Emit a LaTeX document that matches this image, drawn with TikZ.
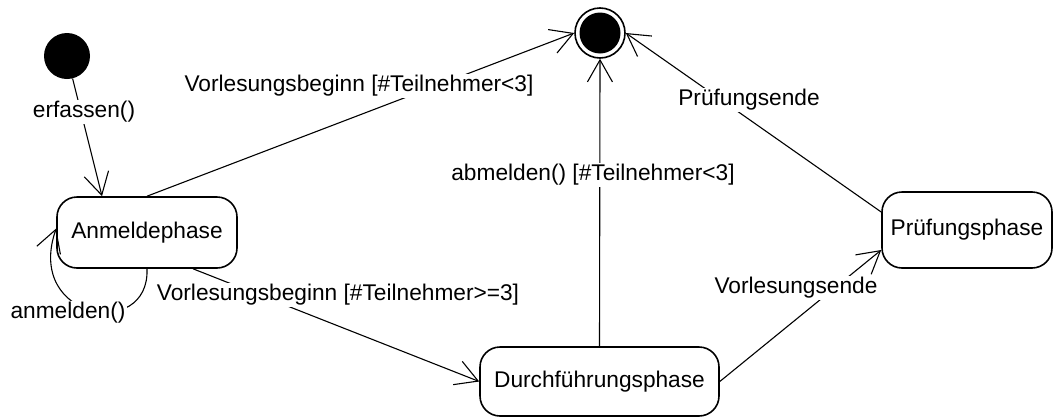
\documentclass[tikz,border=0pt]{standalone}
\usepackage{fontspec}
\setmainfont{Liberation Sans}
\usetikzlibrary{arrows.meta}
\begin{document}
\begin{tikzpicture}[x=1pt,y=-1pt,
  every node/.style={font=\fontsize{22.7}{27}\selectfont},
  state/.style={draw, line width=1.6pt, rounded corners=20pt, inner sep=0pt},
  trans/.style={line width=1.1pt, -{Straight Barb[length=22pt,width=25pt,line width=1.1pt]}},
  lbl/.style={fill=white, inner sep=1.5pt}]
\useasboundingbox (0,0) rectangle (1057,418);

% pseudo states
\node[circle, fill=black, minimum size=46pt, inner sep=0pt] (init) at (67,56) {};
\node[circle, draw, line width=1.6pt, minimum size=50pt, inner sep=0pt] (final) at (600,33) {};
\fill (final.center) circle (20.5pt);

% states
\node[state, minimum width=180pt, minimum height=71pt] (anm) at (147,232.5) {Anmeldephase};
\node[state, minimum width=239pt, minimum height=69pt] (dur) at (599.5,381.5) {Durchführungsphase};
\node[state, minimum width=170pt, minimum height=76pt] (pru) at (967,230) {Prüfungsphase};

% transitions
\draw[trans] (init) -- ([xshift=-45pt]anm.north);
\draw[trans] (anm.north) -- (final.west);
\draw[trans] (anm.south) .. controls +(3,72) and +(-32,92) .. ([yshift=4pt]anm.west);
\draw[trans] ([xshift=46pt]anm.south) -- (dur.west);
\draw[trans] (dur.north) -- (final.south);
\draw[trans] (dur.east) -- ([yshift=-20pt]pru.west);
\draw[trans] ([yshift=18pt]pru.west) -- (final.east);

% transition labels
\node[lbl] (l1) at (84,112) {erfassen()};
\node[lbl] (l2) at (359,86) {Vorlesungsbeginn [\#Teilnehmer<3]};
\node[lbl] (l3) at (68,313) {anmelden()};
\node[lbl] (l4) at (338,295) {Vorlesungsbeginn [\#Teilnehmer>=3]};
\node[lbl] (l5) at (593,175) {abmelden() [\#Teilnehmer<3]};
\node[lbl] (l6) at (749,100) {Prüfungsende};
\node[lbl] (l7) at (796,288) {Vorlesungsende};
\end{tikzpicture}
\end{document}
